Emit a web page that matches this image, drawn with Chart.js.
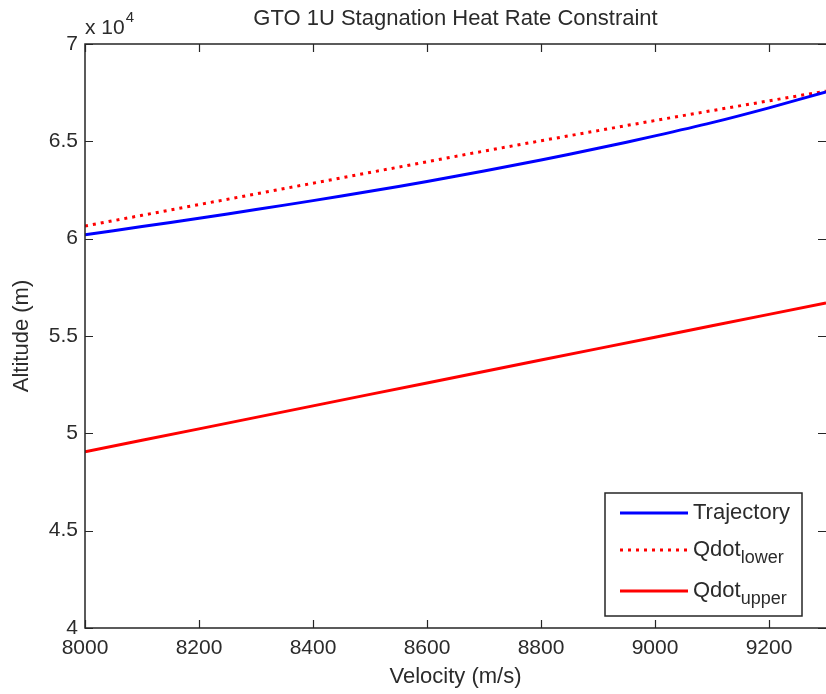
<!DOCTYPE html>
<html>
<head>
<meta charset="utf-8">
<script src="https://cdn.jsdelivr.net/npm/chart.js@4.4.1/dist/chart.umd.min.js"></script>
<style>
  html, body { margin: 0; padding: 0; background: #fff; }
  #wrap { width: 826px; height: 694px; }
</style>
</head>
<body>
<div id="wrap"><canvas id="heatChart" width="826" height="694"></canvas></div>
<script>
// velocity samples (m/s)
const velocity = [8000, 8100, 8200, 8300, 8400, 8500, 8600, 8700, 8800, 8900, 9000, 9100, 9200, 9300];

// altitude (m)
const trajectory = [60200, 60620, 61050, 61495, 61955, 62435, 62940, 63475, 64040, 64640, 65280, 65960, 66720, 67540];
const qdotLower = [60650, 61200, 61750, 62300, 62850, 63400, 63950, 64500, 65030, 65550, 66070, 66580, 67080, 67580];
const qdotUpper = [49050, 49640, 50230, 50820, 51410, 52000, 52590, 53180, 53770, 54350, 54940, 55530, 56110, 56700];

const xTicks = [8000, 8200, 8400, 8600, 8800, 9000, 9200];
const yTicks = [40000, 45000, 50000, 55000, 60000, 65000, 70000];

const textColor = "#2b2b2b";
const axisColor = "#262626";
const fontFamily = "'Liberation Sans', Arial, sans-serif";

function pts(ys) {
    return velocity.map((v, i) => ({ x: v, y: ys[i] }));
}

// box, inward ticks, title, exponent and legend drawn like the matlab figure
const matlabAxes = {
    id: "matlabAxes",
    afterDraw(chart) {
        const c = chart.ctx;
        const a = chart.chartArea;
        const xs = chart.scales.x;
        const ys = chart.scales.y;
        const tl = 8;

        c.save();
        c.strokeStyle = axisColor;
        c.lineWidth = 1.5;
        c.beginPath();
        c.moveTo(a.right, a.top);
        c.lineTo(a.left, a.top);
        c.lineTo(a.left, a.bottom);
        c.lineTo(a.right, a.bottom);
        c.stroke();

        c.lineWidth = 1.2;
        c.beginPath();
        xTicks.forEach(t => {
            const px = Math.round(xs.getPixelForValue(t)) + 0.5;
            c.moveTo(px, a.bottom); c.lineTo(px, a.bottom - tl);
            c.moveTo(px, a.top); c.lineTo(px, a.top + tl);
        });
        yTicks.forEach(t => {
            const py = Math.round(ys.getPixelForValue(t)) + 0.5;
            c.moveTo(a.left, py); c.lineTo(a.left + tl, py);
            c.moveTo(a.right, py); c.lineTo(a.right - tl, py);
        });
        c.stroke();

        // title
        c.fillStyle = textColor;
        c.font = "22px " + fontFamily;
        c.textAlign = "center";
        c.textBaseline = "middle";
        c.fillText("GTO 1U Stagnation Heat Rate Constraint", (a.left + 826) / 2, 19);

        // x 10^4
        c.textAlign = "left";
        c.textBaseline = "alphabetic";
        c.font = "21px " + fontFamily;
        c.fillText("x 10", a.left, 34);
        const w = c.measureText("x 10").width;
        c.font = "15px " + fontFamily;
        c.fillText("4", a.left + w + 1, 22);

        // legend
        const bx = 605, by = 493, bw = 197, bh = 123;
        c.fillStyle = "#fff";
        c.fillRect(bx, by, bw, bh);
        c.strokeStyle = axisColor;
        c.lineWidth = 1.5;
        c.strokeRect(bx, by, bw, bh);

        const rows = [513, 550, 591];
        chart.data.datasets.forEach((ds, i) => {
            const y = rows[i];
            c.strokeStyle = ds.borderColor;
            c.lineWidth = ds.borderWidth;
            c.setLineDash(ds.borderDash || []);
            c.beginPath();
            c.moveTo(620, y); c.lineTo(688, y);
            c.stroke();
            c.setLineDash([]);

            const parts = ds.label.split("_");
            c.fillStyle = textColor;
            c.font = "22px " + fontFamily;
            c.textBaseline = "alphabetic";
            c.fillText(parts[0], 693, y + 6);
            if (parts[1]) {
                const mw = c.measureText(parts[0]).width;
                c.font = "18px " + fontFamily;
                c.fillText(parts[1], 693 + mw, y + 13);
            }
        });
        c.restore();
    }
};

new Chart(document.getElementById("heatChart"), {

    type: "line",

    data: {
        datasets: [
            {
                label: "Trajectory",
                data: pts(trajectory),
                borderColor: "#0000ff",
                borderWidth: 3,
                pointRadius: 0,
                tension: 0.3
            },
            {
                label: "Qdot_lower",
                data: pts(qdotLower),
                borderColor: "#ff0000",
                borderWidth: 3,
                borderDash: [3, 5],
                pointRadius: 0,
                tension: 0
            },
            {
                label: "Qdot_upper",
                data: pts(qdotUpper),
                borderColor: "#ff0000",
                borderWidth: 3,
                pointRadius: 0,
                tension: 0
            }
        ]
    },

    options: {
        responsive: false,
        animation: false,
        layout: { padding: { top: 44, left: 0, right: 0, bottom: 0 } },
        plugins: {
            legend: { display: false },
            title: { display: false },
            tooltip: { enabled: false }
        },
        scales: {
            x: {
                type: "linear",
                min: 8000,
                max: 9300,
                border: { display: false },
                grid: { display: false, drawTicks: false },
                afterFit(scale) { scale.height = 66; },
                afterBuildTicks(scale) { scale.ticks = xTicks.map(v => ({ value: v })); },
                ticks: {
                    padding: 8,
                    color: textColor,
                    font: { family: fontFamily, size: 21 },
                    maxRotation: 0,
                    callback: v => String(v)
                },
                title: {
                    display: true,
                    text: "Velocity (m/s)",
                    color: textColor,
                    font: { family: fontFamily, size: 22 },
                    padding: { top: 0, bottom: 4 }
                }
            },
            y: {
                type: "linear",
                min: 40000,
                max: 70000,
                border: { display: false },
                grid: { display: false, drawTicks: false },
                afterFit(scale) { scale.width = 85; },
                afterBuildTicks(scale) { scale.ticks = yTicks.map(v => ({ value: v })); },
                ticks: {
                    padding: 7,
                    color: textColor,
                    font: { family: fontFamily, size: 21 },
                    callback: v => String(v / 10000)
                },
                title: {
                    display: true,
                    text: "Altitude (m)",
                    color: textColor,
                    font: { family: fontFamily, size: 22 },
                    padding: { top: 9, bottom: 0 }
                }
            }
        }
    },

    plugins: [matlabAxes]

});
</script>
</body>
</html>
